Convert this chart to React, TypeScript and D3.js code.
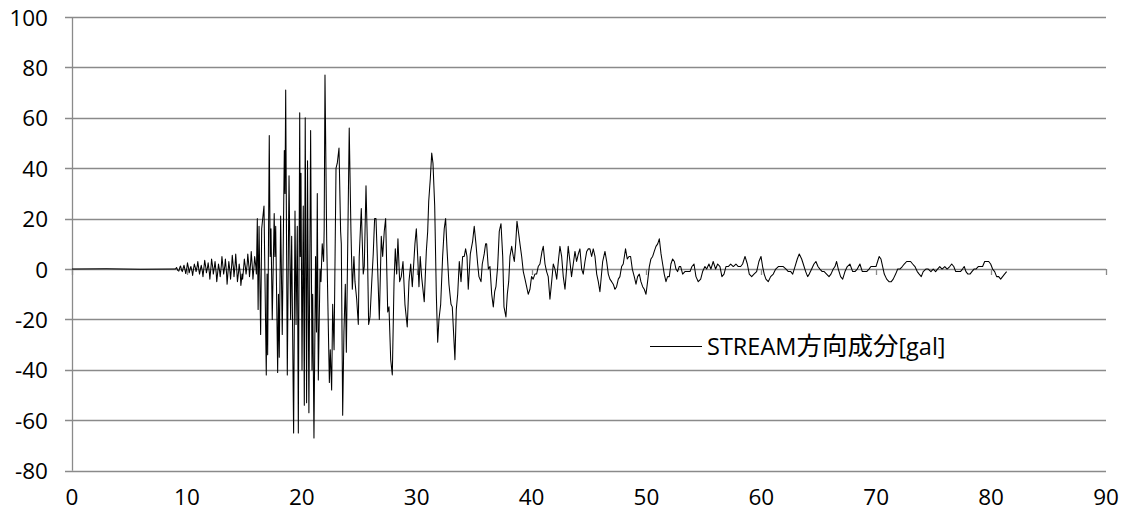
import React from "react";
import * as d3 from "d3";

const xTicks = [0, 10, 20, 30, 40, 50, 60, 70, 80, 90];
const yTicks = [-80, -60, -40, -20, 0, 20, 40, 60, 80, 100];
const seriesName = ["STREAM", "方向成分", "[gal]"];

type P = [number, number];

const preEvent: P[] = [[0, 0], [3, 0.1], [6, -0.1], [8.9, 0]];

const earlyNoise: P[] = [
  [9.0, 0], [9.1, 0.6], [9.2, -0.5], [9.3, -0.8], [9.4, 0.9], [9.45, 1.2], [9.55, -0.6], [9.6, -1],
  [9.7, 0.8], [9.75, 1.5], [9.85, -0.6], [9.9, -1.8], [10.0, 0.6], [10.05, 2.5], [10.15, 0.2],
  [10.2, -1.5], [10.3, 0.5], [10.35, 1], [10.45, -1], [10.5, -2.5], [10.6, 0.7], [10.65, 2],
  [10.75, 0.3], [10.8, -1], [10.9, 1.2], [10.95, 3], [11.05, -0.5], [11.1, -2], [11.2, 0.4],
  [11.25, 1.5], [11.35, -1], [11.4, -3], [11.5, 1.2], [11.55, 3.5], [11.65, 0.5], [11.7, -1.5],
  [11.8, 0.8], [11.85, 2.5], [11.95, -1.2], [12.0, -4], [12.1, 1], [12.15, 4], [12.25, 0.6],
  [12.3, -2], [12.4, 1], [12.45, 3], [12.55, -1.5], [12.6, -5], [12.7, -0.5], [12.75, 2],
  [12.85, -0.8], [12.9, -3], [13.0, 1.5], [13.05, 5], [13.15, 0.5], [13.2, -2], [13.3, 1.2],
  [13.35, 4], [13.45, -1.5], [13.5, -6], [13.6, 0], [13.65, 3], [13.75, -1], [13.8, -4],
  [13.9, 1.5], [13.95, 5.5], [14.05, 0.5], [14.1, -3], [14.2, 2], [14.25, 6], [14.35, -1],
  [14.4, -5], [14.5, -1], [14.55, 2], [14.65, -2], [14.7, -6.5], [14.8, -2], [14.85, -4],
  [14.95, 1], [15.0, 4], [15.1, 0.5], [15.15, -2], [15.25, 2], [15.3, 6], [15.4, 1],
  [15.45, -3], [15.55, 2.5], [15.6, 7], [15.7, 0.5], [15.75, -4], [15.85, 1.5], [15.9, 5],
  [16.0, 1], [16.05, -2],
];

const strongMotion: P[] = [
  [16.13, 20], [16.2, -16], [16.28, 17], [16.42, -26], [16.51, 16], [16.71, 25], [16.91, -42],
  [16.98, -2], [17.03, -34], [17.17, 53], [17.25, 5], [17.32, 16], [17.43, -20], [17.6, 22],
  [17.66, 5], [17.73, 17], [17.9, -41], [17.97, -10], [18.04, -35], [18.16, 21], [18.3, -26],
  [18.48, 47], [18.54, 30], [18.6, 71], [18.74, -42], [18.89, 37], [19.03, -20], [19.12, 13],
  [19.29, -65], [19.41, 23], [19.5, -22], [19.61, 17], [19.7, -65], [19.82, 62], [19.87, 5],
  [19.93, 38], [20.02, -40], [20.13, 25], [20.22, -54], [20.3, 60], [20.42, -53], [20.5, 43],
  [20.62, -57], [20.77, 55], [20.89, -40], [20.95, -10], [21.06, -67], [21.2, 5], [21.28, -25],
  [21.35, 30], [21.44, -44], [21.59, 0], [21.67, -5], [21.78, 10], [21.9, 3], [21.95, 16],
  [22.02, 77], [22.17, 11], [22.4, -45], [22.48, -32], [22.6, -48], [22.69, -14], [22.81, -32],
  [22.98, 40], [23.09, 42], [23.24, 48], [23.38, 15], [23.44, 10], [23.56, -58], [23.67, -25],
  [23.79, -6], [23.88, -33], [24.13, 56], [24.28, 15], [24.4, -8], [24.54, 5], [24.63, -5],
  [24.78, -12], [24.92, -22], [25.0, 5], [25.18, 24], [25.35, -2], [25.44, 1], [25.59, 33],
  [25.7, 12], [25.82, -22], [25.94, -19], [26.08, -6], [26.22, 6], [26.34, 20], [26.46, 20],
  [26.57, 5], [26.75, -20], [26.92, 13], [27.04, 5], [27.18, 15], [27.3, 20], [27.48, -17],
  [27.59, -15], [27.74, -36], [27.88, -42], [28.03, -5], [28.14, 8], [28.26, -2], [28.37, 12],
  [28.52, -5], [28.66, -3], [28.81, 3], [28.98, -14], [29.18, -23], [29.33, -5], [29.48, 2],
  [29.62, -7], [29.85, 10], [29.97, 16], [30.09, 5], [30.2, -7], [30.31, 5], [30.43, -3],
  [30.66, -13], [30.84, 7], [30.96, 15], [31.05, 27], [31.19, 36], [31.31, 46], [31.42, 42],
  [31.57, 25], [31.71, -10], [31.83, -29], [31.94, -20], [32.09, -14], [32.26, 5], [32.4, 16],
  [32.52, 20], [32.64, 8], [32.81, -6], [32.99, -14], [33.1, -15], [33.22, -26], [33.33, -36],
  [33.45, -16], [33.57, -10], [33.71, 3], [33.86, -5], [34.0, 5], [34.14, 5], [34.26, 8],
  [34.38, 5], [34.49, -8], [34.67, 6], [34.87, 11], [35.01, 17], [35.16, 10], [35.31, 2],
  [35.42, -3], [35.6, -5], [35.71, 2], [35.88, 6],
];

const laterPhase: P[] = [
  [36.0, 10], [36.09, 10], [36.24, 0], [36.38, 1], [36.53, -10], [36.67, -15], [36.79, -9],
  [36.9, -7], [37.05, 1], [37.19, 15], [37.34, 18], [37.49, 5], [37.6, -15], [37.77, -19],
  [37.89, -10], [38.01, -5], [38.12, 5], [38.27, 9], [38.41, 5], [38.5, 3], [38.62, 10],
  [38.73, 19], [38.88, 14], [38.99, 10], [39.14, 5], [39.28, -1], [39.43, -4], [39.57, -7],
  [39.71, -10], [39.86, -8], [40.0, -3], [40.14, -4], [40.29, -2], [40.44, -2], [40.58, 1],
  [40.73, 2], [40.91, 7], [41.02, 9], [41.17, 2], [41.31, -1], [41.45, -3], [41.6, -12],
  [41.75, -5], [41.89, 2], [42.04, 0], [42.19, -4], [42.33, 3], [42.47, 9], [42.62, 5],
  [42.76, -3], [42.91, -8], [43.05, 0], [43.19, 9], [43.34, 3], [43.48, -3], [43.63, 2],
  [43.78, 7], [43.92, 3], [44.07, 6], [44.21, 8], [44.36, 0], [44.5, -2], [44.65, 3],
  [44.8, 7], [44.94, 8], [45.08, 8], [45.23, 5], [45.37, 8], [45.52, 5], [45.67, -2],
  [45.81, -5], [45.95, -9], [46.19, 3], [46.39, 7], [46.54, 3], [46.68, -2], [46.82, -4],
  [46.97, -5], [47.11, -6], [47.26, -8], [47.4, -7], [47.55, -4], [47.69, -3], [47.84, 1],
  [47.98, 2], [48.18, 8], [48.33, 4], [48.48, 5], [48.62, 5], [48.77, 0], [48.94, -3],
  [49.09, -6], [49.23, -3], [49.38, -2], [49.52, -5], [49.67, -7], [49.81, -8], [49.96, -10],
  [50.1, -5], [50.25, 1], [50.39, 4], [50.54, 5], [50.68, 7], [50.83, 9], [50.98, 10],
  [51.12, 12], [51.27, 6], [51.41, 2], [51.55, -2], [51.7, -5], [51.84, -3], [51.99, -3],
  [52.13, 2], [52.28, 4], [52.43, 3], [52.57, 0], [52.71, -1], [52.86, 1],
];

const coda: P[] = [
  [52.98, 1], [53.15, -2], [53.35, -1], [53.55, -1], [53.79, -1], [53.96, 1], [54.14, 2],
  [54.31, -3], [54.51, -5], [54.72, -4], [54.89, -1], [55.09, 1], [55.24, 0], [55.44, 2],
  [55.61, 0], [55.81, 3], [56.02, 0], [56.2, 2], [56.4, 1], [56.57, -3], [56.75, -2],
  [56.92, 1], [57.12, 1], [57.33, 2], [57.56, 1], [57.79, 2], [57.99, 1], [58.2, 1],
  [58.37, 2], [58.58, 5], [58.78, 2], [58.95, -2], [59.16, -3], [59.36, -2], [59.59, -1],
  [59.79, 3], [59.97, 5], [60.11, 1], [60.25, -2], [60.4, -4], [60.6, -5], [60.81, -3],
  [61.04, -2], [61.25, 0], [61.48, 1], [61.68, 1], [61.91, 1], [62.15, 0], [62.35, -1],
  [62.56, -1], [62.73, -2], [62.93, 1], [63.13, 4], [63.3, 6], [63.51, 4], [63.65, 2],
  [63.86, -1], [64.03, -3], [64.17, -2], [64.38, 0], [64.58, 2], [64.75, 3], [64.93, 1],
  [65.1, 0], [65.3, -1], [65.47, -1], [65.68, -2], [65.89, -3], [66.06, -2], [66.26, 0],
  [66.41, 1], [66.55, 3], [66.7, 0], [66.9, -3], [67.08, -4], [67.28, -1], [67.48, 1],
  [67.71, 2], [67.95, -1], [68.15, -1], [68.35, 0], [68.58, 2], [68.79, -1], [68.99, -1],
  [69.17, -1], [69.37, 0], [69.54, 1], [69.74, 1], [69.98, 1], [70.12, 3], [70.26, 5],
  [70.41, 4], [70.56, 1], [70.7, -2], [70.91, -4], [71.11, -5], [71.31, -5], [71.48, -4],
  [71.69, -2], [71.87, 0], [72.06, 0], [72.27, 1], [72.44, 2], [72.65, 3], [72.82, 3],
  [72.99, 3], [73.17, 2], [73.37, 1], [73.57, -1], [73.74, -2], [73.92, -3], [74.09, -1],
  [74.32, 0], [74.53, 0], [74.76, -1], [74.96, 0], [75.17, -1], [75.34, 0], [75.53, 1],
  [75.73, 0], [75.97, 1], [76.17, 0], [76.4, 1], [76.57, 2], [76.75, 1], [76.92, -1],
  [77.14, -1], [77.33, -1], [77.51, 0], [77.66, 1], [77.81, -1], [77.98, -2], [78.16, -2],
  [78.33, -1], [78.51, 0], [78.68, 0], [78.88, 1], [79.09, 1], [79.26, 1], [79.44, 3],
  [79.61, 3], [79.79, 3], [79.96, 2], [80.13, 0], [80.31, -1], [80.48, -3], [80.66, -3],
  [80.83, -4], [81.0, -3], [81.17, -2], [81.35, -1],
];

const series: P[] = [...preEvent, ...earlyNoise, ...strongMotion, ...laterPhase, ...coda];

const W = 1123;
const H = 522;
const FONT = "'Open Sans', 'Noto Sans CJK JP', sans-serif";
const GRID = "#8a8a8a";

export default function App() {
  const x = d3.scaleLinear().domain([0, 90]).range([72, 1106]);
  const y = d3.scaleLinear().domain([-80, 100]).range([470.7, 17]);
  const line = d3
    .line<P>()
    .x((d) => x(d[0]))
    .y((d) => y(d[1]));

  return (
    <svg
      width={W}
      height={H}
      style={{ position: "absolute", left: 0, top: 0, background: "#fff" }}
      fontFamily={FONT}
    >
      <rect x={0} y={0} width={W} height={H} fill="#fff" />
      {yTicks.map((t) => (
        <line
          key={"g" + t}
          x1={65}
          x2={x(90)}
          y1={Math.round(y(t)) + 0.5}
          y2={Math.round(y(t)) + 0.5}
          stroke={GRID}
          strokeWidth={1.3}
        />
      ))}
      <line x1={72.5} x2={72.5} y1={y(100)} y2={y(-80)} stroke={GRID} strokeWidth={1.3} />
      {xTicks.map((t) => (
        <line
          key={"xt" + t}
          x1={Math.round(x(t)) + 0.5}
          x2={Math.round(x(t)) + 0.5}
          y1={Math.round(y(0))}
          y2={Math.round(y(0)) + 6}
          stroke={GRID}
          strokeWidth={1.3}
        />
      ))}
      <path d={line(series) ?? ""} fill="none" stroke="#000" strokeWidth={1.05} strokeLinejoin="round" />
      {yTicks.map((t) => (
        <text
          key={"yl" + t}
          x={48}
          y={y(t)}
          textAnchor="end"
          dominantBaseline="central"
          fontSize={22.5}
          fill="#000"
        >
          {t}
        </text>
      ))}
      {xTicks.map((t) => (
        <text
          key={"xl" + t}
          x={x(t)}
          y={496}
          textAnchor="middle"
          dominantBaseline="central"
          fontSize={22.5}
          fill="#000"
        >
          {t}
        </text>
      ))}
      <line x1={650} x2={702} y1={346.5} y2={346.5} stroke="#000" strokeWidth={1} />
      <text x={707} y={355} fontSize={23.5} fill="#000">
        <tspan>{seriesName[0]}</tspan>
        <tspan fontSize={25.5}>{seriesName[1]}</tspan>
        <tspan>{seriesName[2]}</tspan>
      </text>
    </svg>
  );
}
